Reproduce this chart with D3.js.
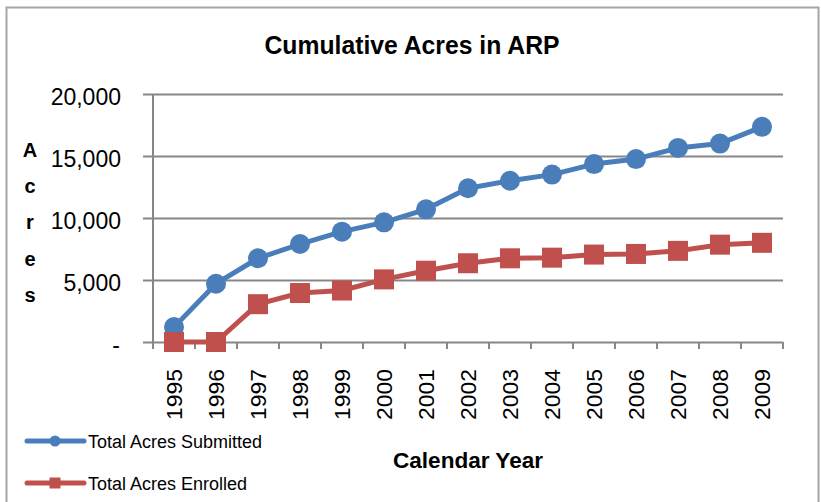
<!DOCTYPE html>
<html>
<head>
<meta charset="utf-8">
<script src="https://cdn.jsdelivr.net/npm/d3@7"></script>
<style>
  body { margin: 0; background: #fff; }
  svg { display: block; font-family: "Liberation Sans", Arial, sans-serif; }
</style>
</head>
<body>
<div id="chart"></div>
<script>
'use strict';
// data
const years = ['1995', '1996', '1997', '1998', '1999', '2000', '2001', '2002',
  '2003', '2004', '2005', '2006', '2007', '2008', '2009'];
const submitted = [1200, 4700, 6750, 7900, 8900, 9650, 10700, 12400,
  13000, 13500, 14350, 14750, 15650, 16000, 17350];
const enrolled = [0, 0, 3050, 3950, 4150, 5050, 5750, 6350,
  6750, 6800, 7050, 7100, 7350, 7850, 8000];
const yTicks = [0, 5000, 10000, 15000, 20000];
const seriesNames = ['Total Acres Submitted', 'Total Acres Enrolled'];

const w = 821,
  h = 502;
const pLeft = 153, pRight = 783, pTop = 94, pBottom = 342;
const blue = '#4a7ebb', red = '#c0504d', grid = '#878787';

const svg = d3.select('#chart').append('svg')
  .attr('width', w)
  .attr('height', h);

// outer frame
svg.append('rect')
  .attr('x', 6.5).attr('y', 7.5)
  .attr('width', 812).attr('height', 510)
  .attr('fill', 'none')
  .attr('stroke', '#a6a6a6')
  .attr('stroke-width', 2);

const x = d3.scaleBand()
  .domain(years)
  .range([pLeft, pRight]);

const y = d3.scaleLinear()
  .domain([0, 20000])
  .range([pBottom, pTop]);

// gridlines + y ticks
svg.append('g')
  .attr('transform', `translate(${pLeft},0)`)
  .call(d3.axisLeft(y).tickValues(yTicks).tickSize(-(pRight - pLeft)).tickFormat(''))
  .call(g => g.select('.domain').remove())
  .call(g => g.selectAll('line').attr('stroke', grid).attr('stroke-width', 2).attr('x1', -10));

svg.selectAll('.ylab')
  .data(yTicks)
  .enter().append('text')
  .attr('class', 'ylab')
  .attr('x', d => d === 0 ? 120 : 121)
  .attr('y', d => y(d) + 11)
  .attr('text-anchor', 'end')
  .attr('font-size', 23)
  .attr('fill', '#000')
  .text(d => d === 0 ? '-' : d3.format(',')(d));

// y axis line
svg.append('line')
  .attr('x1', pLeft).attr('x2', pLeft)
  .attr('y1', pTop).attr('y2', pBottom + 6)
  .attr('stroke', grid).attr('stroke-width', 2);

// x axis ticks between categories
const xt = years.map(d => x(d)).concat([pRight]);
svg.selectAll('.xtick')
  .data(xt)
  .enter().append('line')
  .attr('class', 'xtick')
  .attr('x1', d => d).attr('x2', d => d)
  .attr('y1', pBottom).attr('y2', pBottom + 7)
  .attr('stroke', grid).attr('stroke-width', 2);

svg.selectAll('.xlab')
  .data(years)
  .enter().append('text')
  .attr('class', 'xlab')
  .attr('transform', d => `translate(${x(d) + x.bandwidth() / 2 + 8},420) rotate(-90)`)
  .attr('font-size', 22)
  .attr('textLength', 51)
  .attr('lengthAdjust', 'spacingAndGlyphs')
  .text(d => d);

// lines
const cx = d => x(d) + x.bandwidth() / 2;
const line = d3.line()
  .x((d, i) => cx(years[i]))
  .y(d => y(d));

svg.append('path')
  .datum(enrolled)
  .attr('d', line)
  .attr('fill', 'none')
  .attr('stroke', red)
  .attr('stroke-width', 5)
  .attr('stroke-linejoin', 'round');

svg.append('path')
  .datum(submitted)
  .attr('d', line)
  .attr('fill', 'none')
  .attr('stroke', blue)
  .attr('stroke-width', 5)
  .attr('stroke-linejoin', 'round');

svg.selectAll('.dot')
  .data(submitted)
  .enter().append('circle')
  .attr('class', 'dot')
  .attr('cx', (d, i) => cx(years[i]))
  .attr('cy', d => y(d))
  .attr('r', 10)
  .attr('fill', blue);

svg.selectAll('.sq')
  .data(enrolled)
  .enter().append('rect')
  .attr('class', 'sq')
  .attr('x', (d, i) => cx(years[i]) - 10)
  .attr('y', d => y(d) - 10)
  .attr('width', 20)
  .attr('height', 20)
  .attr('fill', red);

// title + axis titles
svg.append('text')
  .attr('x', 412).attr('y', 54)
  .attr('text-anchor', 'middle')
  .attr('font-size', 25)
  .attr('font-weight', 'bold')
  .attr('textLength', 295)
  .attr('lengthAdjust', 'spacingAndGlyphs')
  .text('Cumulative Acres in ARP');

svg.append('text')
  .attr('x', 468).attr('y', 468)
  .attr('text-anchor', 'middle')
  .attr('font-size', 22)
  .attr('font-weight', 'bold')
  .attr('textLength', 150)
  .attr('lengthAdjust', 'spacingAndGlyphs')
  .text('Calendar Year');

// vertical "Acres", one letter per line
svg.selectAll('.ytitle')
  .data('Acres'.split(''))
  .enter().append('text')
  .attr('class', 'ytitle')
  .attr('x', 30)
  .attr('y', (d, i) => 157 + i * 36.2)
  .attr('text-anchor', 'middle')
  .attr('font-size', 20)
  .attr('font-weight', 'bold')
  .text(d => d);

// legend
const leg = svg.selectAll('.leg')
  .data(seriesNames)
  .enter().append('g')
  .attr('class', 'leg')
  .attr('transform', (d, i) => `translate(27,${441 + i * 42})`);

leg.append('line')
  .attr('x1', 0).attr('x2', 57)
  .attr('stroke', (d, i) => i ? red : blue)
  .attr('stroke-width', 5)
  .attr('stroke-linecap', 'round');

leg.filter((d, i) => i === 0).append('circle')
  .attr('cx', 28).attr('r', 5.5)
  .attr('fill', blue);

leg.filter((d, i) => i === 1).append('rect')
  .attr('x', 22.5).attr('y', -5.5)
  .attr('width', 11).attr('height', 11)
  .attr('fill', red);

leg.append('text')
  .attr('x', 61).attr('y', 7)
  .attr('font-size', 18)
  .attr('textLength', (d, i) => i ? 159 : 174)
  .attr('lengthAdjust', 'spacingAndGlyphs')
  .text(d => d);
</script>
</body>
</html>
